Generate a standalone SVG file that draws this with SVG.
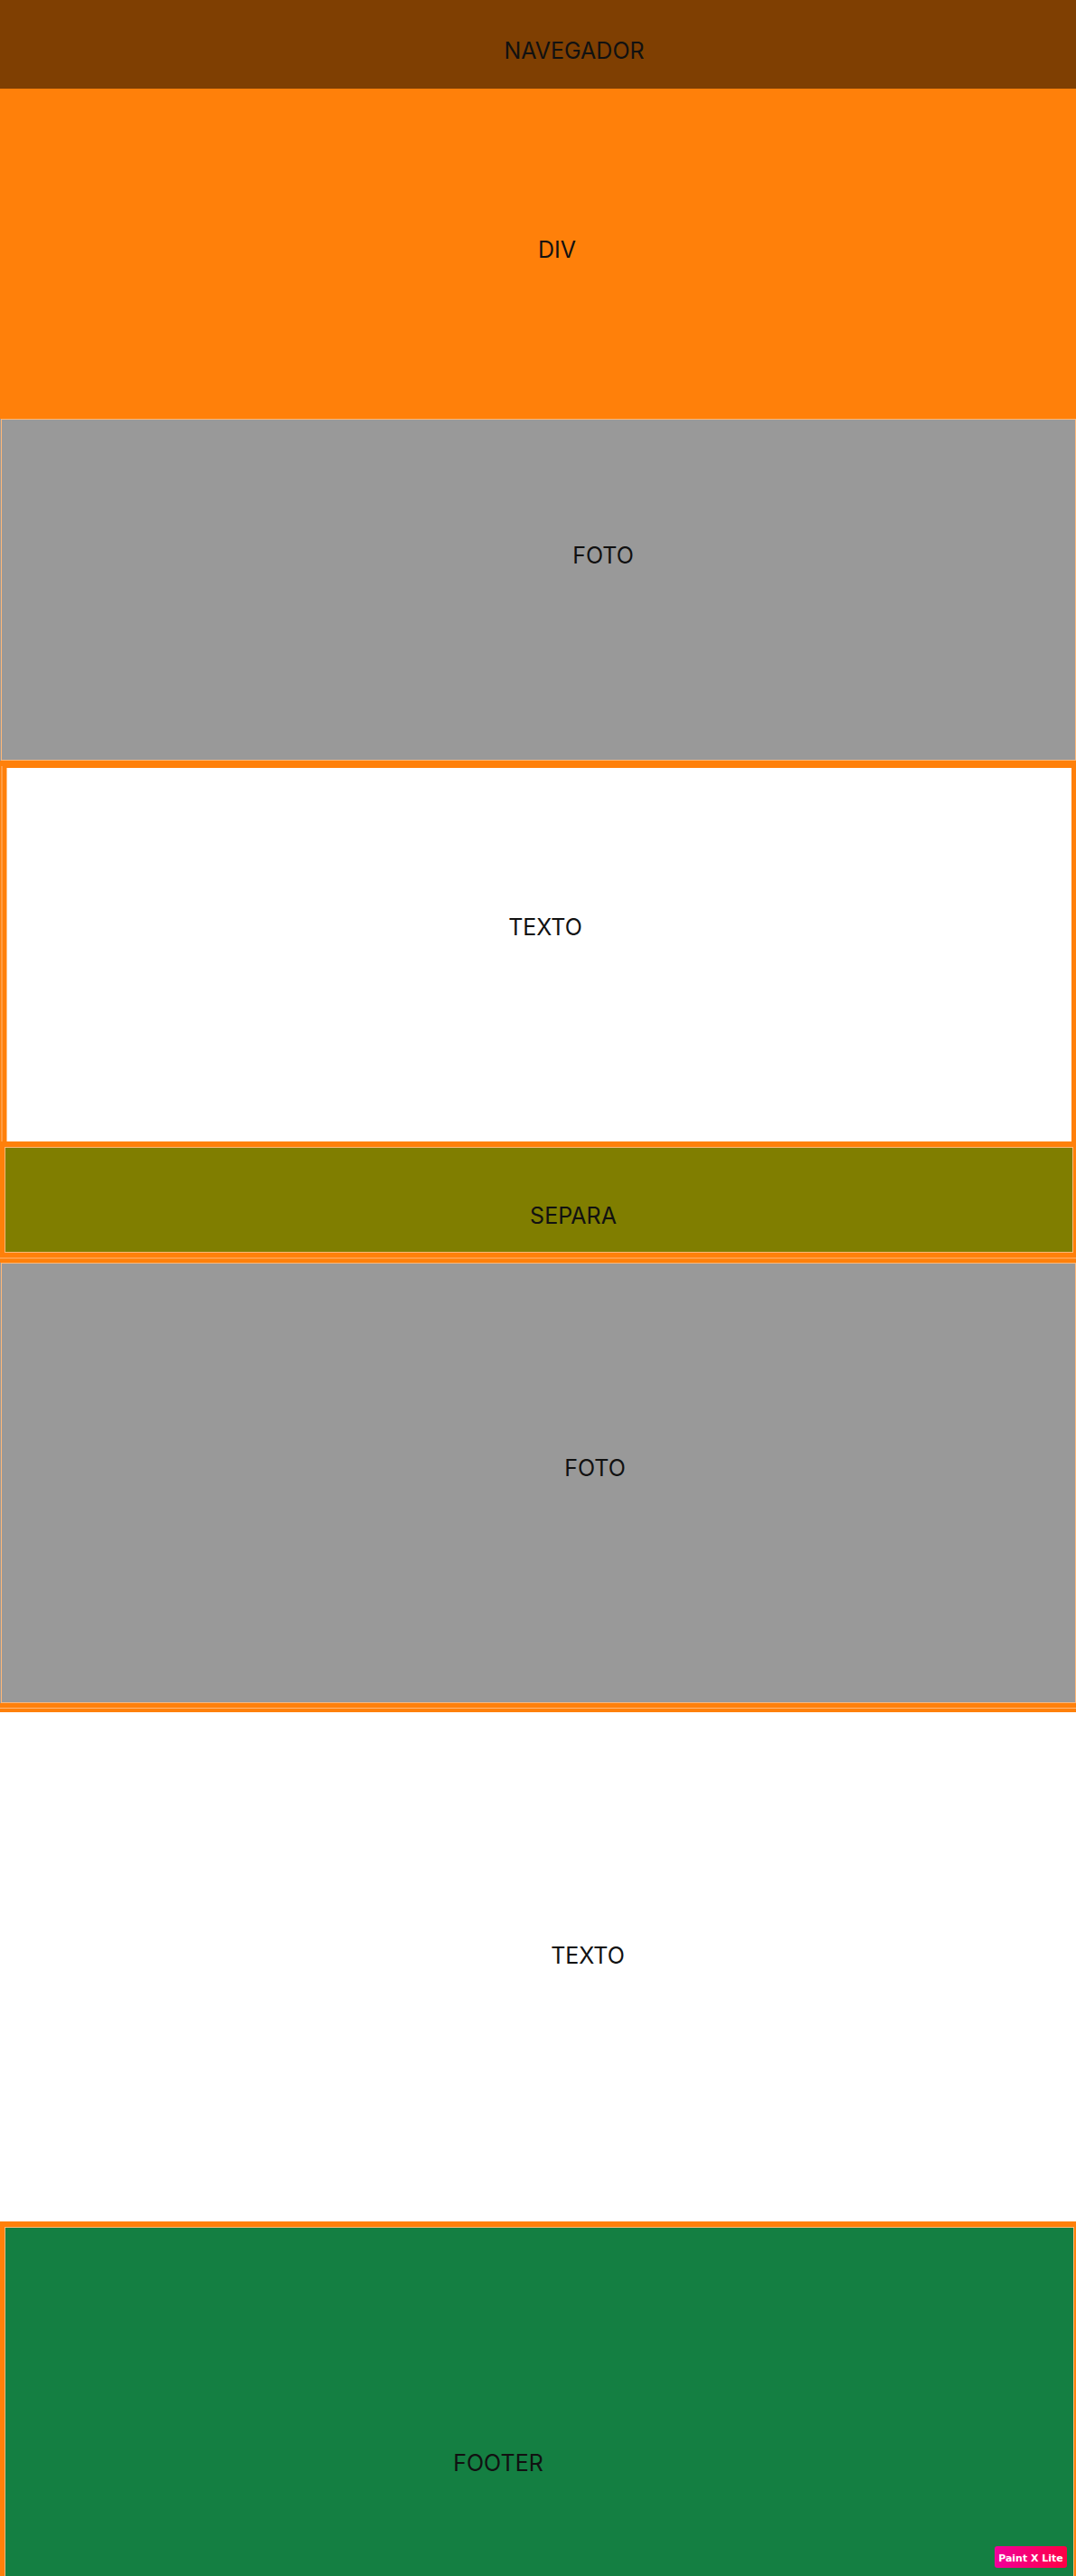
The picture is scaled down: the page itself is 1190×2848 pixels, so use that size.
<svg xmlns="http://www.w3.org/2000/svg" width="1190" height="2848" viewBox="0 0 1190 2848">
<style>
.lbl{font-family:Inter,"Noto Sans",sans-serif;font-size:25px;fill:#111;text-anchor:middle}
.edge{fill:none;stroke:#ffb878;stroke-width:1}
</style>
<defs>
<linearGradient id="badge" x1="0" y1="0" x2="1" y2="0">
<stop offset="0" stop-color="#f0009c"/>
<stop offset="1" stop-color="#ff0044"/>
</linearGradient>
</defs>
<rect x="0" y="0" width="1190" height="2848" fill="#ffffff"/>
<g id="navegador">
<rect x="0" y="0" width="1190" height="98" fill="#7f3f02"/>
<text class="lbl" x="635" y="65">NAVEGADOR</text>
</g>
<g id="div">
<rect x="0" y="98" width="1190" height="365" fill="#ff800a"/>
<text class="lbl" x="616" y="285">DIV</text>
</g>
<g id="foto1">
<rect x="0" y="463" width="1190" height="378" fill="#999999"/>
<rect class="edge" x="1.5" y="463.5" width="1188" height="377"/>
<text class="lbl" x="667" y="623">FOTO</text>
</g>
<g id="texto1">
<rect x="0" y="841" width="1190" height="555" fill="#ff800a"/>
<rect x="7.5" y="849" width="1177.5" height="413" fill="#ffffff"/>
<line class="edge" x1="2" y1="847" x2="2" y2="1262"/>
<text class="lbl" x="603" y="1034">TEXTO</text>
</g>
<g id="separa">
<rect x="5" y="1268" width="1182" height="117" fill="#807e00"/>
<rect class="edge" x="5.5" y="1268.5" width="1181" height="116"/>
<line class="edge" x1="0" y1="1391" x2="1190" y2="1391"/>
<text class="lbl" x="634" y="1353">SEPARA</text>
</g>
<g id="foto2">
<rect x="0" y="1396" width="1190" height="487" fill="#999999"/>
<rect class="edge" x="1.5" y="1396.5" width="1188" height="486"/>
<rect x="0" y="1883" width="1190" height="10" fill="#ff800a"/>
<line class="edge" x1="0" y1="1888.5" x2="1190" y2="1888.5"/>
<text class="lbl" x="658" y="1632">FOTO</text>
</g>
<g id="texto2">
<text class="lbl" x="650" y="2171">TEXTO</text>
</g>
<g id="footer">
<rect x="0" y="2456" width="1190" height="392" fill="#ff800a"/>
<rect x="6" y="2462" width="1181" height="386" fill="#147f42"/>
<rect class="edge" x="5.5" y="2462.5" width="1182" height="390"/>
<text class="lbl" x="551" y="2732">FOOTER</text>
</g>
<g id="badge-watermark">
<rect x="1100" y="2815" width="80" height="24" rx="3" fill="url(#badge)"/>
<text x="1140" y="2832" font-family="'DejaVu Sans',sans-serif" font-size="11" font-weight="bold" fill="#ffffff" text-anchor="middle">Paint X Lite</text>
</g>
<g id="connectors"/>
</svg>
